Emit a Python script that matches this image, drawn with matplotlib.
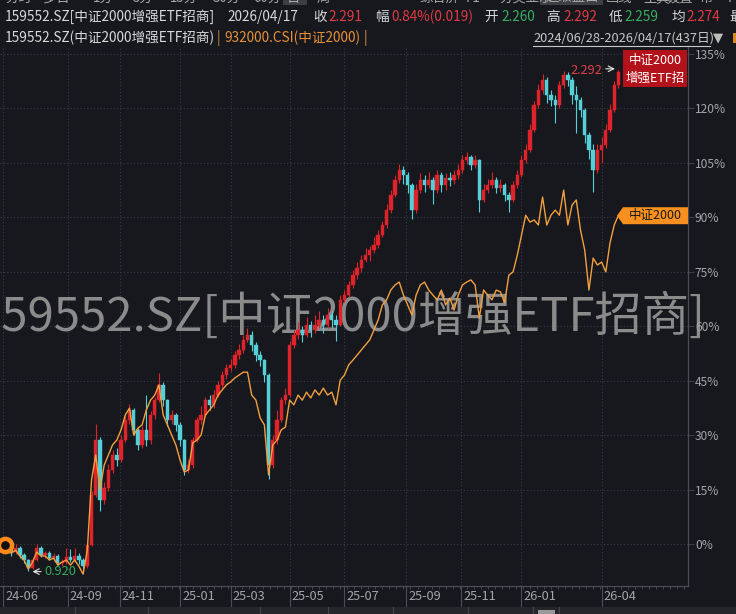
import matplotlib
matplotlib.use('Agg')
import matplotlib.pyplot as plt
import matplotlib.transforms as mtransforms
from matplotlib.patches import Rectangle, Polygon
import numpy as np

plt.rcParams['font.family'] = ['Noto Sans CJK SC', 'DejaVu Sans']

W, H = 736, 614
BG = '#16181d'
UP = '#e0232b'
DOWN = '#55d0d8'
ORANGE = '#f3a03e'
GRID = '#3a3d45'
AXC = '#4a4d55'
LBL = '#a3a5aa'

# ---------------- data (percent change from 2024-06-28, sampled every 3 trading days) ----------------
step = 3
etf_close = [-0.3, -1.7, -2.2, -1.1, -3.0, -4.4, -6.6, -4.4, -1.1, -3.0,
             -2.5, -3.9, -3.3, -5.2, -5.0, -3.6, -4.4, -3.3, -4.4, -6.1,
             -0.3, 13.5, 28.6, 12.1, 15.4, 20.4, 24.5, 23.1, 28.6, 34.1,
             36.9, 31.4, 27.3, 31.4, 28.6, 35.5, 39.6, 43.8, 39.6, 34.1,
             35.5, 32.8, 28.6, 20.4, 21.7, 28.6, 34.1, 35.5, 39.6, 38.3,
             41.0, 43.8, 46.5, 48.4, 49.3, 52.0, 53.4, 56.2, 57.5, 54.8,
             52.0, 50.6, 46.5, 21.7, 28.6, 34.1, 39.6, 41.0, 54.8, 57.5,
             58.9, 57.5, 60.3, 58.9, 60.3, 61.7, 60.3, 63.0, 61.7, 60.3,
             67.2, 68.5, 71.3, 74.0, 76.0, 78.2, 79.5, 80.9, 82.3, 85.1,
             87.8, 91.9, 96.1, 100.2, 102.9, 101.6, 98.8, 91.9, 97.4, 100.2,
             98.8, 100.2, 97.4, 101.6, 98.8, 100.7, 100.2, 101.6, 102.9, 105.7,
             106.5, 104.3, 105.7, 94.7, 97.4, 98.8, 100.2, 98.0, 98.8, 96.1,
             94.7, 98.8, 101.6, 105.7, 108.5, 114.0, 120.8, 125.0, 127.7, 123.6,
             122.2, 120.8, 126.3, 129.1, 127.7, 123.6, 122.2, 119.5, 112.6, 108.5,
             102.9, 108.5, 109.8, 114.0, 119.5, 126.3, 129.9]
etf_high = [0.8, 0.3, -1.0, 0.0, -0.5, -2.5, -4.0, -3.8, 0.0, -0.5,
            -1.8, -2.0, -2.6, -2.8, -4.0, -1.0, -1.5, -1.2, -2.5, -3.8,
            0.5, 14.5, 33.0, 29.5, 17.0, 22.0, 26.0, 26.5, 30.0, 35.5,
            38.5, 37.5, 32.0, 32.5, 41.0, 36.5, 40.5, 47.0, 44.5, 40.0,
            37.0, 36.0, 33.5, 29.0, 23.5, 29.5, 35.0, 38.0, 40.5, 41.0,
            42.5, 45.0, 47.5, 49.5, 51.0, 53.0, 55.0, 57.5, 59.5, 58.5,
            55.5, 53.0, 51.0, 47.0, 30.0, 37.0, 40.5, 43.0, 56.0, 59.0,
            61.0, 60.0, 62.5, 61.5, 63.0, 64.0, 63.0, 65.0, 64.0, 63.0,
            68.5, 70.0, 72.5, 75.5, 77.5, 79.5, 81.5, 82.0, 84.5, 86.5,
            89.0, 93.5, 97.5, 101.5, 104.5, 104.0, 102.5, 99.5, 99.0, 102.0,
            101.5, 102.5, 101.0, 103.0, 102.5, 102.0, 102.5, 103.0, 104.5, 107.0,
            108.0, 107.0, 107.0, 106.0, 99.0, 100.5, 102.5, 101.0, 100.5, 99.5,
            97.0, 100.0, 103.0, 107.0, 110.0, 115.5, 122.0, 126.5, 129.5, 128.5,
            125.0, 123.5, 127.5, 130.2, 130.0, 128.5, 126.0, 123.0, 120.0, 113.5,
            110.0, 110.0, 112.0, 115.5, 121.0, 127.5, 130.5]
etf_low = [-1.0, -2.5, -3.2, -2.8, -3.8, -5.2, -7.4, -7.0, -4.8, -3.6,
           -3.8, -4.5, -4.6, -5.8, -6.0, -5.5, -5.0, -4.9, -5.4, -7.0,
           -6.5, -0.5, 13.0, 9.0, 11.0, 14.5, 19.5, 21.5, 22.5, 28.0,
           33.0, 30.0, 26.0, 26.5, 27.0, 27.5, 34.5, 39.0, 38.0, 32.5,
           33.0, 31.0, 27.0, 19.0, 19.5, 21.0, 28.0, 33.0, 35.0, 37.0,
           37.5, 40.5, 43.0, 45.5, 47.5, 48.5, 51.0, 52.5, 55.5, 53.0,
           50.5, 49.0, 44.5, 18.0, 21.0, 27.5, 33.5, 38.5, 40.5, 54.0,
           56.5, 55.5, 57.0, 57.0, 58.0, 59.5, 58.0, 59.5, 59.5, 56.0,
           60.0, 66.5, 68.0, 70.5, 73.0, 75.0, 77.5, 78.0, 80.0, 81.5,
           84.5, 87.0, 91.0, 95.5, 99.5, 99.0, 96.5, 89.5, 91.0, 96.5,
           97.0, 98.0, 93.5, 96.5, 97.0, 97.5, 98.5, 99.0, 100.5, 102.0,
           104.5, 103.0, 103.5, 91.5, 94.0, 96.5, 98.0, 96.5, 97.0, 94.5,
           91.5, 94.0, 98.0, 101.0, 105.0, 108.0, 113.5, 120.0, 124.0, 121.5,
           120.5, 116.0, 120.0, 125.5, 126.0, 121.0, 113.0, 117.5, 110.5, 106.0,
           96.9, 102.0, 105.0, 109.0, 113.5, 119.0, 125.5]
csi_line = [-0.3, -2.2, -2.5, -1.7, -3.3, -4.4, -6.9, -5.0, -2.2, -3.3,
            -3.3, -4.4, -3.9, -5.8, -5.0, -4.4, -5.8, -4.4, -6.1, -8.3,
            -1.7, 17.6, 24.5, 14.9, 21.7, 24.5, 27.3, 28.6, 31.4, 35.5,
            37.4, 30.0, 31.9, 32.8, 36.9, 39.6, 41.0, 43.8, 35.5, 32.8,
            30.0, 27.3, 23.1, 19.8, 20.4, 27.8, 28.6, 30.0, 35.5, 36.9,
            38.3, 41.0, 42.4, 43.8, 44.6, 45.7, 46.5, 47.3, 47.3, 41.0,
            39.6, 34.7, 32.8, 19.0, 27.3, 28.6, 31.4, 32.2, 39.6, 38.3,
            41.0, 39.6, 41.8, 40.2, 42.4, 41.0, 42.9, 41.0, 41.8, 38.3,
            45.1, 46.5, 49.3, 50.6, 52.0, 53.4, 54.8, 56.2, 58.9, 61.7,
            65.8, 67.2, 69.9, 71.3, 72.1, 68.5, 65.8, 63.0, 68.5, 71.3,
            72.1, 69.9, 68.5, 67.2, 69.9, 65.8, 67.7, 64.4, 68.5, 71.3,
            72.1, 72.7, 71.3, 62.2, 69.9, 68.5, 67.2, 69.9, 69.4, 66.4,
            74.0, 74.9, 79.5, 85.0, 90.5, 88.6, 89.2, 87.8, 95.5, 87.8,
            90.5, 91.9, 90.5, 97.4, 87.8, 93.3, 94.7, 86.4, 80.9, 69.9,
            78.7, 76.8, 77.6, 74.9, 82.9, 87.8, 90.5]
month_ticks = [0, 46, 83, 126, 162, 204, 243, 287, 326, 369, 426]
month_labels = ['24-06', '24-09', '24-11', '25-01', '25-03', '25-05', '25-07',
                '25-09', '25-11', '26-01', '26-04']
y_ticks = [0, 15, 30, 45, 60, 75, 90, 105, 120, 135]
y_labels = ['%d%%' % v for v in y_ticks]

# ---------------- figure ----------------
fig = plt.figure(figsize=(W / 100, H / 100), dpi=100, facecolor=BG)
top_px, bot_px, right_px = 47, 586, 688
ax = fig.add_axes([0, 1 - bot_px / H, right_px / W, (bot_px - top_px) / H])
ax.set_facecolor(BG)
ax.set_xlim(-2.135, 487.5)
ax.set_ylim(-11.56, 136.8)

pix = mtransforms.Affine2D().scale(1, -1).translate(0, H)   # top-left pixel coords

for s in ['left', 'top']:
    ax.spines[s].set_visible(False)
for s in ['right', 'bottom']:
    ax.spines[s].set_color(AXC)
    ax.spines[s].set_linewidth(0.9)

# grid
for v in y_ticks:
    ax.axhline(v, color=GRID, lw=0.8, ls=(0, (1, 2)), zorder=0.5)
for t in month_ticks:
    ax.axvline(t, color=GRID, lw=0.8, ls=(0, (1, 2)), zorder=0.5)

ax.yaxis.tick_right()
ax.set_yticks(y_ticks)
ax.set_yticklabels(y_labels)
ax.tick_params(axis='y', length=4, color=GRID, pad=1, labelcolor=LBL, labelsize=8.6)
ax.set_xticks(month_ticks)
ax.set_xticklabels([])
ax.set_xticks(np.arange(0, 487, 5), minor=True)
ax.tick_params(axis='x', which='major', length=15, width=0.8, color=AXC, direction='out')
ax.tick_params(axis='x', which='minor', length=2.5, width=0.6, color=AXC, direction='out')
bt = mtransforms.blended_transform_factory(ax.transData, pix)
for t, lab in zip(month_ticks, month_labels):
    ax.text(t + 1.6, 597, lab, transform=bt, ha='left', va='center',
            color=LBL, fontsize=9.2, clip_on=False)

# watermark
ax.text(-24, 318, '159552.SZ[中证2000增强ETF招商]', transform=pix, ha='left', va='center',
        fontsize=34.0, color='#8b8b8b', zorder=0.8, clip_on=False)

# candles
n = len(etf_close)
xs = np.arange(n) * step
opens = [0.0] + etf_close[:-1]
bw = 2.4
for x, o, c, hi, lo in zip(xs, opens, etf_close, etf_high, etf_low):
    col = UP if c >= o else DOWN
    ax.vlines(x, lo, hi, color=col, lw=0.8, zorder=2)
    h = max(abs(c - o), 0.3)
    ax.add_patch(Rectangle((x - bw / 2, min(o, c)), bw, h, facecolor=col,
                           edgecolor=col, lw=0.3, zorder=2.1))

# index line
ax.plot(xs, csi_line, color=ORANGE, lw=1.0, zorder=3)
ax.plot([1.4], [csi_line[0]], marker='o', ms=9.5, mfc='#111111', mec='#ff8a1c', mew=3.2,
        zorder=4, clip_on=False)

# max / min annotations
kmax = int(np.argmax(etf_high))
kmin = int(np.argmin(etf_low))
xmax, ymax = xs[kmax], etf_high[kmax]
xmin, ymin = xs[kmin], etf_low[kmin]
ax.annotate('', xy=(xmax - 0.5, ymax + 0.3), xytext=(xmax - 11, ymax + 0.3),
            arrowprops=dict(arrowstyle='->', color='#e6e6e6', lw=0.8), zorder=5)
ax.text(xmax - 11.5, ymax - 0.3, '2.292', color='#e2404a', fontsize=9.2, ha='right', va='center', zorder=5)
ax.annotate('', xy=(xmin + 1, ymin - 0.2), xytext=(xmin + 11, ymin - 0.2),
            arrowprops=dict(arrowstyle='->', color='#e6e6e6', lw=0.8), zorder=5)
ax.text(xmin + 11.5, ymin - 0.2, '0.920', color='#2fae5a', fontsize=9.2, ha='left', va='center', zorder=5)

# right tags (positioned from last data values)
fig.canvas.draw()
def to_px(x, y):
    X, Y = ax.transData.transform((x, y))
    return X, H - Y

_, ry = to_px(0, etf_close[-1])
ry -= 3
fig.add_artist(Rectangle((623, ry - 19), 64, 37, transform=pix, facecolor='#b3121b',
                         edgecolor='none', zorder=6))
fig.text(655, ry - 9, '中证2000', transform=pix, color='white', fontsize=9, ha='center', va='center', zorder=7)
fig.text(655, ry + 9, '增强ETF招', transform=pix, color='white', fontsize=9, ha='center', va='center', zorder=7)

_, oy = to_px(0, csi_line[-1])
fig.add_artist(Polygon([(617, oy + 0.5), (623, oy - 8), (688, oy - 8), (688, oy + 9), (623, oy + 9)],
                       closed=True, transform=pix, facecolor='#f7901e', edgecolor='none', zorder=6))
fig.text(655, oy + 0.5, '中证2000', transform=pix, color='#1a1a1a', fontsize=9, ha='center', va='center', zorder=7)

# ---------------- header ----------------
WHITE = '#d9d9d9'
RED = '#e23b45'
GREEN = '#35b062'
# cut-off top toolbar
fig.add_artist(Rectangle((283, 0), 24, 5, transform=pix, facecolor='#3d3f44', edgecolor='none'))
fig.add_artist(Rectangle((540, 0), 63, 5, transform=pix, facecolor='#3d3f44', edgecolor='none'))
for x, s in [(5, '分时'), (43, '多日'), (93, '1分'), (133, '5分'), (170, '15分'), (213, '30分'),
             (253, '60分'), (287, '日'), (317, '周'), (419, '综合屏'), (466, 'F1'), (499, '分类显示'),
             (546, '超级盘口'), (606, '画线'), (643, '工具'), (666, '设置'), (699, '帮'), (726, '?')]:
    fig.text(x, -2, s, transform=pix, color='#a8a8a8', fontsize=9.6, ha='left', va='center')

row1 = 17
for x, s, c in [(5, '159552.SZ[中证2000增强ETF招商]', WHITE), (227, '2026/04/17', WHITE),
                (313, '收', WHITE), (328, '2.291', RED), (375, '幅', WHITE),
                (391, '0.84%(0.019)', RED), (484, '开', WHITE), (501, '2.260', GREEN),
                (546, '高', WHITE), (563, '2.292', RED), (609, '低', WHITE), (624, '2.259', GREEN),
                (671, '均', WHITE), (686, '2.274', RED), (729, '最', WHITE)]:
    fig.text(x, row1, s, transform=pix, color=c, fontsize=9.8, ha='left', va='center')

row2 = 38
fig.text(5, row2, '159552.SZ(中证2000增强ETF招商)', transform=pix, color=WHITE, fontsize=9.8, ha='left', va='center')
fig.text(217, row2, '|', transform=pix, color='#c98a3a', fontsize=9.8, ha='left', va='center')
fig.text(224, row2, '932000.CSI(中证2000)', transform=pix, color='#e8913a', fontsize=9.8, ha='left', va='center')
fig.text(364, row2, '|', transform=pix, color='#e8913a', fontsize=9.8, ha='left', va='center')
fig.text(533, row2, '2024/06/28-2026/04/17(437日)', transform=pix, color='#c8c8c8', fontsize=9.2,
         ha='left', va='center')
fig.add_artist(plt.Line2D([533, 710], [46, 46], transform=pix, color='#c8c8c8', lw=0.8))
fig.text(713, row2, '▼', transform=pix, color='#bdbdbd', fontsize=9.5, ha='left', va='center',
         family=['DejaVu Sans'])
fig.add_artist(Rectangle((733, 33), 4, 10, transform=pix, facecolor='#d98a1f', edgecolor='none'))

# ---------------- bottom strip ----------------
fig.add_artist(Rectangle((0, 607), W, 7, transform=pix, facecolor='#24262b', edgecolor='none'))
for x in [75, 148, 260, 328, 393, 468, 533, 559]:
    fig.add_artist(plt.Line2D([x, x], [607, 614], transform=pix, color='#45474d', lw=0.8))
fig.add_artist(Rectangle((538, 610), 17, 4, transform=pix, facecolor='#9a9a9a', edgecolor='none'))

fig.savefig('out.png', dpi=100, facecolor=BG)
